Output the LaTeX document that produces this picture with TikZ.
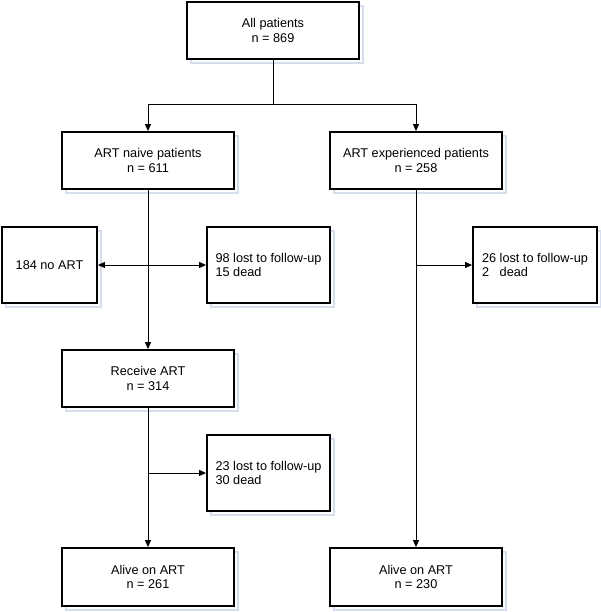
\documentclass[tikz,border=0pt]{standalone}
\usepackage{fontspec}
\setmainfont{Liberation Sans}
\usetikzlibrary{arrows.meta,shadows}
\definecolor{shade}{RGB}{214,221,236}
\begin{document}
\begin{tikzpicture}[x=1pt,y=-1pt,
  box/.style={draw=black, line width=1.8pt, fill=white, align=center, inner sep=2pt,
    font=\fontsize{12.7}{14.5}\selectfont,
    general shadow={shadow xshift=4pt, shadow yshift=-4pt, draw=shade, line width=1.2pt, fill=white}},
  bigbox/.style={box, minimum width=172pt, minimum height=57pt},
  sidebox/.style={box, align=left, minimum height=76pt},
  ln/.style={line width=1pt},
  arr/.style={ln, -{Triangle[length=7pt,width=6pt]}},
  darr/.style={ln, {Triangle[length=7pt,width=6pt]}-{Triangle[length=7pt,width=6pt]}}]
\useasboundingbox (0,0) rectangle (600,612);
\node[bigbox] (all) at (273,30.5) {All patients\\n = 869};
\node[bigbox] (naive) at (148,160.5) {ART naive patients\\n = 611};
\node[bigbox] (exp) at (416,160.5) {ART experienced patients\\n = 258};
\node[sidebox, align=center, minimum width=95pt] (noart) at (49.5,265) {184 no ART};
\node[sidebox, minimum width=123pt] (lost1) at (268.5,265) {98 lost to follow-up\\15 dead};
\node[sidebox, minimum width=124pt] (lost2) at (535,265) {26 lost to follow-up\\2\ \ \ dead};
\node[bigbox] (receive) at (148,378.5) {Receive ART\\n = 314};
\node[sidebox, minimum width=123pt] (lost3) at (268.5,473) {23 lost to follow-up\\30 dead};
\node[bigbox, minimum height=58pt] (alive1) at (148,577) {Alive on ART\\n = 261};
\node[bigbox, minimum height=58pt] (alive2) at (416,577) {Alive on ART\\n = 230};
\draw[ln] (all.south) -- ++(0,45) coordinate (split);
\draw[arr] (split) -| (naive.north);
\draw[arr] (split) -| (exp.north);
\draw[arr] (naive.south) -- (receive.north);
\draw[darr] (noart.east) -- (lost1.west);
\draw[arr] (receive.south) -- (alive1.north);
\draw[arr] (receive.south |- lost3.west) -- (lost3.west);
\draw[arr] (exp.south) -- (alive2.north);
\draw[arr] (exp.south |- lost2.west) -- (lost2.west);
\end{tikzpicture}
\end{document}
